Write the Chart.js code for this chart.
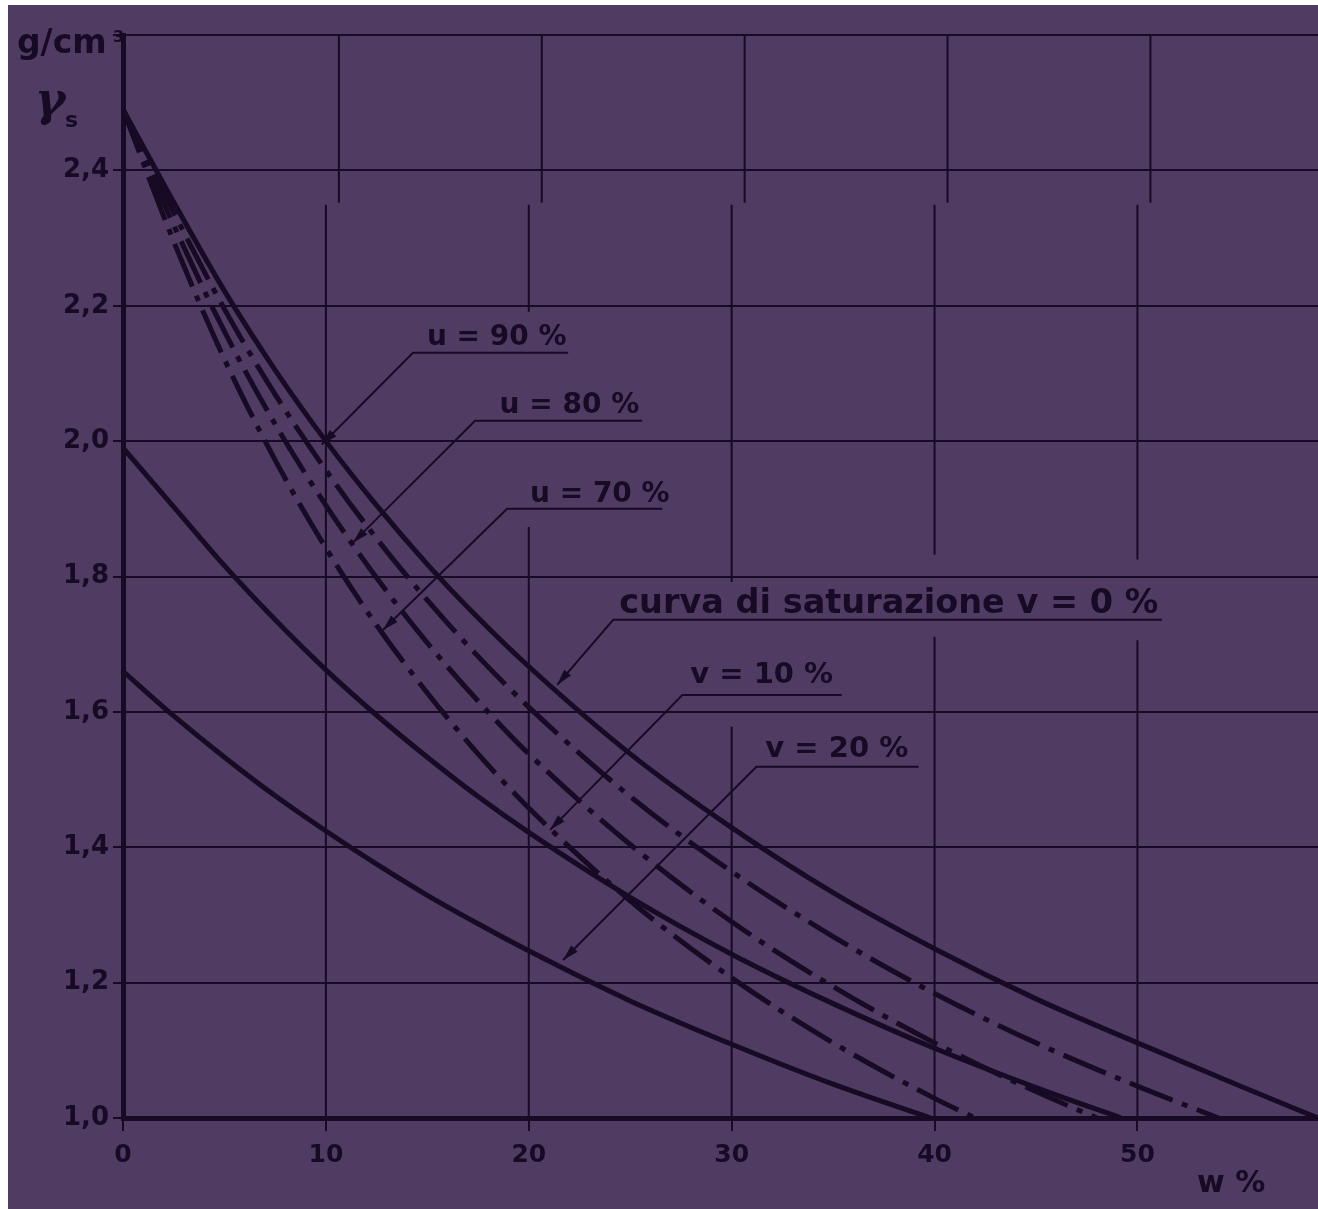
<!DOCTYPE html>
<html>
<head>
<meta charset="utf-8">
<title>Curve di saturazione</title>
<script src="https://cdn.jsdelivr.net/npm/chart.js@4.4.1/dist/chart.umd.min.js"></script>
<style>
  html, body { margin: 0; padding: 0; background: #ffffff; }
  canvas { display: block; }
</style>
</head>
<body>
<canvas id="chartSaturazione" width="1318" height="1209"></canvas>
<script>
// w % (contenuto d'acqua) and gamma (g/cm3), one pair of arrays per curve
const wSat = [0, 2.5, 5, 7.5, 10, 12.5, 15, 17.5, 20, 25, 30, 35, 40, 45, 50, 55, 58.9];
const gSat = [2.49, 2.353, 2.222, 2.105, 2.0, 1.905, 1.818, 1.739, 1.667, 1.538, 1.429, 1.333, 1.25, 1.176, 1.111, 1.048, 1.0];

const wU90 = [0, 2.5, 5, 7.5, 10, 12.5, 15, 17.5, 20, 25, 30, 35, 40, 45, 50, 54];
const gU90 = [2.49, 2.338, 2.195, 2.069, 1.957, 1.856, 1.765, 1.682, 1.607, 1.475, 1.364, 1.268, 1.184, 1.111, 1.047, 1.0];

const wU80 = [0, 2.5, 5, 7.5, 10, 12.5, 15, 17.5, 20, 25, 30, 35, 40, 45, 48];
const gU80 = [2.49, 2.319, 2.162, 2.025, 1.905, 1.798, 1.702, 1.616, 1.538, 1.404, 1.29, 1.194, 1.111, 1.039, 1.0];

const wU70 = [0, 2.5, 5, 7.5, 10, 12.5, 15, 17.5, 20, 25, 30, 35, 40, 42];
const gU70 = [2.49, 2.295, 2.121, 1.972, 1.842, 1.728, 1.628, 1.538, 1.458, 1.321, 1.207, 1.111, 1.029, 1.0];

const wV10 = [0, 2.5, 5, 7.5, 10, 12.5, 15, 17.5, 20, 25, 30, 35, 40, 45, 49.2];
const gV10 = [1.99, 1.903, 1.816, 1.736, 1.662, 1.595, 1.533, 1.475, 1.422, 1.326, 1.242, 1.169, 1.103, 1.045, 1.0];

const wV20 = [0, 2.5, 5, 7.5, 10, 12.5, 15, 17.5, 20, 25, 30, 35, 39.8];
const gV20 = [1.66, 1.594, 1.533, 1.476, 1.424, 1.375, 1.329, 1.287, 1.247, 1.173, 1.109, 1.05, 1.0];

const xTicks = [0, 10, 20, 30, 40, 50];
const yTicks = [1.0, 1.2, 1.4, 1.6, 1.8, 2.0, 2.2, 2.4, 2.6];

// the printed grid is interrupted behind the labels (gamma ranges left blank)
const xGridGaps = { 20: [1.873, 2.191], 30: [1.578, 1.792], 40: [1.711, 1.832], 50: [1.706, 1.825] };
// above this gamma the plate was pasted slightly to the right
const pasteBreak = 2.352;
const pasteShift = 13;

const INK = "#170a24";
const PAPER = "#503b63";
const DASH_DOT = [46, 10, 6, 10];

const toPoints = (ws, gs) => ws.map((w, i) => ({ x: w, y: gs[i] }));

const curve = (label, ws, gs, dash) => ({
  label: label,
  data: toPoints(ws, gs),
  showLine: true,
  borderColor: INK,
  borderWidth: 5,
  borderDash: dash,
  borderCapStyle: "butt",
  pointRadius: 0,
  cubicInterpolationMode: "monotone",
  fill: false,
});

// labels with underline and leader arrow, placed in data units (w, gamma)
const callouts = [
  { text: "u = 90 %", size: 28, tx: 14.98, ty: 2.142, ux1: 14.29, ux2: 21.94, uy: 2.1306, px: 9.8, py: 1.995 },
  { text: "u = 80 %", size: 28, tx: 18.56, ty: 2.042, ux1: 17.35, ux2: 25.59, uy: 2.03, px: 11.33, py: 1.85 },
  { text: "u = 70 %", size: 28, tx: 20.06, ty: 1.91, ux1: 18.93, ux2: 26.58, uy: 1.9, px: 12.81, py: 1.721 },
  { text: "curva di saturazione v = 0 %", size: 33.5, tx: 24.46, ty: 1.746, ux1: 24.16, ux2: 51.21, uy: 1.736, px: 21.4, py: 1.64 },
  { text: "v = 10 %", size: 29, tx: 27.96, ty: 1.643, ux1: 27.57, ux2: 35.42, uy: 1.625, px: 21.05, py: 1.4257 },
  { text: "v = 20 %", size: 29, tx: 31.66, ty: 1.5335, ux1: 31.22, ux2: 39.21, uy: 1.5188, px: 21.69, py: 1.2335 },
];

const paperBackground = {
  id: "paperBackground",
  beforeDraw(chart) {
    const ctx = chart.ctx;
    ctx.save();
    ctx.fillStyle = "#ffffff";
    ctx.fillRect(0, 0, chart.width, chart.height);
    ctx.fillStyle = PAPER;
    ctx.fillRect(8, 5, chart.width - 8, chart.height - 5);
    ctx.restore();
  },
};

// vertical grid lines, drawn by hand because of the gaps and the pasted top strip
const brokenGrid = {
  id: "brokenGrid",
  beforeDatasetsDraw(chart) {
    const ctx = chart.ctx;
    const xs = chart.scales.x;
    const ys = chart.scales.y;
    const area = chart.chartArea;
    const yBreak = ys.getPixelForValue(pasteBreak);
    ctx.save();
    ctx.strokeStyle = INK;
    ctx.lineWidth = 2;
    xTicks.forEach((v) => {
      if (v === 0) return;
      const px = xs.getPixelForValue(v);
      ctx.beginPath();
      ctx.moveTo(px + pasteShift, area.top);
      ctx.lineTo(px + pasteShift, yBreak);
      const gap = xGridGaps[v];
      if (gap) {
        ctx.moveTo(px, yBreak + 2);
        ctx.lineTo(px, ys.getPixelForValue(gap[1]));
        ctx.moveTo(px, ys.getPixelForValue(gap[0]));
        ctx.lineTo(px, area.bottom);
      } else {
        ctx.moveTo(px, yBreak + 2);
        ctx.lineTo(px, area.bottom);
      }
      ctx.stroke();
    });
    ctx.restore();
  },
};

const plateText = {
  id: "plateText",
  afterDatasetsDraw(chart) {
    const ctx = chart.ctx;
    const xs = chart.scales.x;
    const ys = chart.scales.y;
    const area = chart.chartArea;
    ctx.save();
    ctx.fillStyle = INK;
    ctx.strokeStyle = INK;
    ctx.textBaseline = "alphabetic";
    ctx.textAlign = "left";

    callouts.forEach((c) => {
      ctx.font = `bold ${c.size}px 'DejaVu Sans'`;
      ctx.fillText(c.text, xs.getPixelForValue(c.tx), ys.getPixelForValue(c.ty));

      const x1 = xs.getPixelForValue(c.ux1);
      const x2 = xs.getPixelForValue(c.ux2);
      const yU = ys.getPixelForValue(c.uy);
      const tx = xs.getPixelForValue(c.px);
      const ty = ys.getPixelForValue(c.py);

      ctx.lineWidth = 2;
      ctx.beginPath();
      ctx.moveTo(x2, yU);
      ctx.lineTo(x1, yU);
      ctx.lineTo(tx, ty);
      ctx.stroke();

      // arrow head
      const ang = Math.atan2(ty - yU, tx - x1);
      const len = 16, half = 4.5;
      ctx.beginPath();
      ctx.moveTo(tx, ty);
      ctx.lineTo(tx - len * Math.cos(ang) + half * Math.sin(ang), ty - len * Math.sin(ang) - half * Math.cos(ang));
      ctx.lineTo(tx - len * Math.cos(ang) - half * Math.sin(ang), ty - len * Math.sin(ang) + half * Math.cos(ang));
      ctx.closePath();
      ctx.fill();
    });

    // unit and symbol at top left
    ctx.font = "bold 33px 'DejaVu Sans'";
    ctx.fillText("g/cm", area.left - 106, area.top + 18);
    ctx.font = "bold 16px 'DejaVu Sans'";
    ctx.fillText("3", area.left - 10, area.top + 7);
    ctx.font = "bold italic 46px 'DejaVu Serif'";
    ctx.fillText("γ", area.left - 88, area.top + 80);
    ctx.font = "bold 22px 'DejaVu Sans'";
    ctx.fillText("s", area.left - 58, area.top + 92);

    // x axis title
    ctx.font = "bold 30px 'DejaVu Sans'";
    ctx.fillText("w %", xs.getPixelForValue(52.94), area.bottom + 74);
    ctx.restore();
  },
};

const ctx = document.getElementById("chartSaturazione").getContext("2d");
const myChart = new Chart(ctx, {
  type: "scatter",
  data: {
    datasets: [
      curve("curva di saturazione v = 0 %", wSat, gSat, []),
      curve("u = 90 %", wU90, gU90, DASH_DOT),
      curve("u = 80 %", wU80, gU80, DASH_DOT),
      curve("u = 70 %", wU70, gU70, DASH_DOT),
      curve("v = 10 %", wV10, gV10, []),
      curve("v = 20 %", wV20, gV20, []),
    ],
  },
  options: {
    responsive: false,
    animation: false,
    layout: { padding: { top: 35, right: 0, left: 0, bottom: 0 } },
    plugins: {
      legend: { display: false },
      tooltip: { enabled: false },
    },
    scales: {
      x: {
        type: "linear",
        min: 0,
        max: 58.9,
        afterFit: (scale) => { scale.height = 91; },
        afterBuildTicks: (scale) => { scale.ticks = xTicks.map((v) => ({ value: v })); },
        ticks: {
          color: INK,
          padding: 9,
          font: { family: "DejaVu Sans", weight: "bold", size: 25 },
          callback: (v) => String(v),
        },
        grid: { drawOnChartArea: false, color: INK, lineWidth: 2, tickLength: 13, tickColor: INK, tickWidth: 2 },
        border: { color: INK, width: 5 },
      },
      y: {
        min: 1.0,
        max: 2.6,
        afterFit: (scale) => { scale.width = 123; },
        afterBuildTicks: (scale) => { scale.ticks = yTicks.map((v) => ({ value: v })); },
        ticks: {
          color: INK,
          padding: 4,
          font: { family: "DejaVu Sans", weight: "bold", size: 26 },
          callback: (v) => (v > 2.5 ? "" : v.toFixed(1).replace(".", ",")),
        },
        grid: { color: INK, lineWidth: 2, tickLength: 10, tickColor: INK, tickWidth: 2 },
        border: { color: INK, width: 5 },
      },
    },
  },
  plugins: [paperBackground, brokenGrid, plateText],
});
</script>
</body>
</html>
